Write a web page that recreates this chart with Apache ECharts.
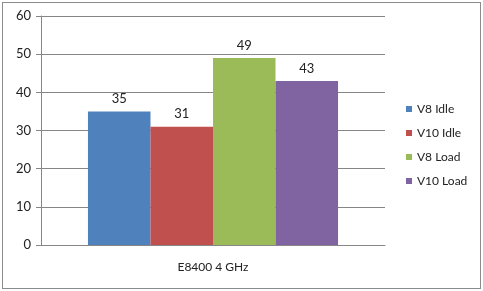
<!DOCTYPE html>
<html><head><meta charset="utf-8">
<script src="https://cdn.jsdelivr.net/npm/echarts@6/dist/echarts.min.js"></script>
<style>html,body{margin:0;padding:0;background:#fff}#c{width:483px;height:291px}
#b{position:absolute;left:2px;top:2px;width:477px;height:285px;border:1px solid #8c8c8c;pointer-events:none}</style>
</head><body><div id="c"></div><div id="b"></div>
<script>
const categories = ['E8400 4 GHz'];
const seriesNames = ['V8 Idle', 'V10 Idle', 'V8 Load', 'V10 Load'];
const seriesValues = [[35], [31], [49], [43]];
const colors = ['#4f81bd', '#c0504d', '#9bbb59', '#8064a2'];
const font = 'Lato';
const chart = echarts.init(document.getElementById('c'));
chart.setOption({
  animation: false,
  color: colors,
  textStyle: {fontFamily: font},
  grid: {left: 41, top: 16, width: 344, height: 229, containLabel: false},
  legend: {
    orient: 'vertical', left: 401, top: 98, itemWidth: 6, itemHeight: 6, itemGap: 12,
    icon: 'rect', textStyle: {fontFamily: font, fontSize: 12, color: '#222'},
    data: seriesNames
  },
  xAxis: {
    type: 'category', data: categories,
    axisLine: {lineStyle: {color: '#868686'}}, axisTick: {show: false},
    axisLabel: {fontFamily: font, fontSize: 12, color: '#222', margin: 16}
  },
  yAxis: {
    type: 'value', min: 0, max: 60, interval: 10,
    axisLine: {show: true, lineStyle: {color: '#868686'}},
    axisTick: {show: true, length: 5, lineStyle: {color: '#868686'}},
    splitLine: {lineStyle: {color: '#868686'}},
    axisLabel: {fontFamily: font, fontSize: 13, color: '#222', margin: 10}
  },
  series: seriesNames.map((n, i) => ({
    name: n, type: 'bar', data: seriesValues[i],
    barGap: '0%', barCategoryGap: '27.3%',
    label: {show: true, position: 'top', distance: 6, fontFamily: font, fontSize: 13, color: '#222'}
  }))
});
</script></body></html>
